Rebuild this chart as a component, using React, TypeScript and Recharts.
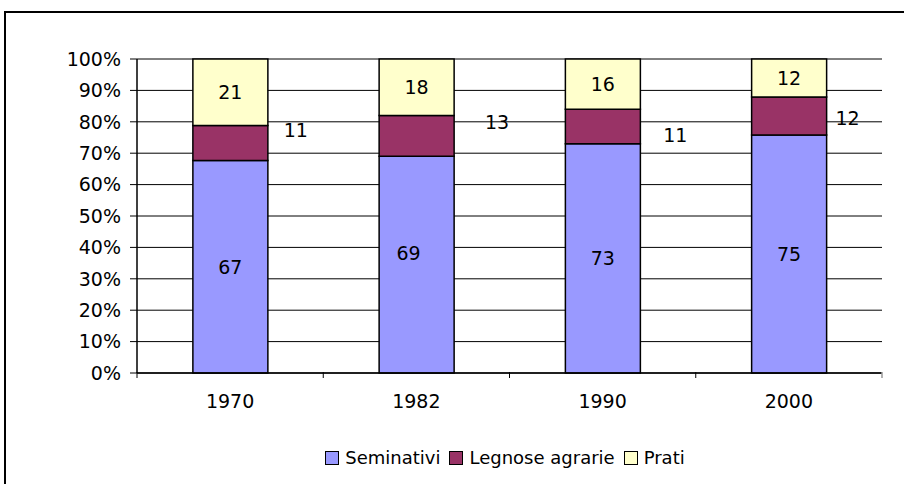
import { BarChart, Bar, XAxis, YAxis, CartesianGrid, Legend, LabelList } from 'recharts';

// anni e quote (%) per tipo di coltura
const years = ['1970', '1982', '1990', '2000'];
const seminativi = [67, 69, 73, 75];
const legnose = [11, 13, 11, 12];
const prati = [21, 18, 16, 12];
const yTicks = [0, 0.1, 0.2, 0.3, 0.4, 0.5, 0.6, 0.7, 0.8, 0.9, 1];

// etichette spostate a mano come nell'originale (dx, dy in px)
const legnoseNudge = [[28, -13], [43, -14], [35, 8], [21, 2]];
const seminativiNudge = [[0, 0], [-8, -12], [0, 0], [0, 0]];

const series = [
  { key: 'Seminativi', color: '#9999FF' },
  { key: 'Legnose agrarie', color: '#993366' },
  { key: 'Prati', color: '#FFFFCC' },
];

const data = years.map((year, i) => ({
  year,
  Seminativi: seminativi[i],
  'Legnose agrarie': legnose[i],
  Prati: prati[i],
}));

const FONT = 'DejaVu Sans';
const FS = 19;

const centerLabel = (nudge?: number[][]) => (props: any) => {
  const { x, y, width, height, value, index } = props;
  const [dx, dy] = nudge ? nudge[index] : [0, 0];
  return (
    <text x={x + width / 2 + dx} y={y + height / 2 + dy} textAnchor="middle" dominantBaseline="central"
      fontFamily={FONT} fontSize={FS} fill="#000">{value}</text>
  );
};

const sideLabel = (props: any) => {
  const { x, y, width, height, value, index } = props;
  const [dx, dy] = legnoseNudge[index];
  return (
    <text x={x + width + dx} y={y + height / 2 + dy} textAnchor="middle" dominantBaseline="central"
      fontFamily={FONT} fontSize={FS} fill="#000">{value}</text>
  );
};

const YearTick = (props: any) => {
  const { x, y, payload, index } = props;
  const half = payload?.offset ?? 93.1;
  return (
    <g>
      <line x1={x - half} y1={y - 9} x2={x - half} y2={y - 3} stroke="#000" strokeWidth={1} />
      {index === years.length - 1 && (
        <line x1={x + half} y1={y - 9} x2={x + half} y2={y - 3} stroke="#999" strokeWidth={1.5} />
      )}
      <text x={x} y={y + 20} textAnchor="middle" dominantBaseline="central" fontFamily={FONT} fontSize={FS} fill="#000">
        {payload.value}
      </text>
    </g>
  );
};

const LegendBox = () => (
  <div style={{ display: 'flex', justifyContent: 'center', alignItems: 'center', fontFamily: FONT, fontSize: 18, color: '#000' }}>
    {series.map((s) => (
      <div key={s.key} style={{ display: 'flex', alignItems: 'center', marginRight: 9 }}>
        <span style={{ width: 12, height: 12, background: s.color, border: '1px solid #000', marginRight: 6, display: 'inline-block' }} />
        <span>{s.key}</span>
      </div>
    ))}
  </div>
);

export default function App() {
  return (
    <div style={{ position: 'absolute', left: 0, top: 0, width: 904, height: 484, overflow: 'hidden', background: '#fff' }}>
      <div style={{ position: 'absolute', left: 4, top: 11, width: 1000, height: 600, border: '2px solid #000' }} />
      <div style={{ position: 'absolute', left: 0, top: 0 }}>
        <BarChart width={904} height={484} data={data} stackOffset="expand" barCategoryGap="30%"
          margin={{ top: 59, right: 22, left: 0, bottom: 71 }}>
          <CartesianGrid vertical={false} stroke="#000" strokeWidth={1} />
          <XAxis dataKey="year" height={40} axisLine={{ stroke: '#000', strokeWidth: 1.5 }} tickLine={false} tick={YearTick} interval={0} />
          <XAxis xAxisId="top" dataKey="year" orientation="top" height={0} axisLine={{ stroke: '#999', strokeWidth: 1.5 }} tick={false} tickLine={false} />
          <YAxis domain={[0, 1]} ticks={yTicks} width={137} tickSize={7} tickMargin={9}
            tickFormatter={(v: number) => `${Math.round(v * 100)}%`}
            axisLine={{ stroke: '#000', strokeWidth: 1.5 }} tickLine={{ stroke: '#000' }}
            tick={{ fontFamily: FONT, fontSize: FS, fill: '#000' }} />
          <YAxis yAxisId="right" orientation="right" width={0} axisLine={{ stroke: '#999', strokeWidth: 1.5 }} tick={false} tickLine={false} />
          <Legend layout="horizontal" verticalAlign="middle" align="center" content={LegendBox}
            wrapperStyle={{ top: 447, left: 137, width: 745 }} />
          <Bar dataKey="Seminativi" stackId="a" fill="#9999FF" stroke="#000" strokeWidth={1.5} isAnimationActive={false}>
            <LabelList dataKey="Seminativi" content={centerLabel(seminativiNudge)} />
          </Bar>
          <Bar dataKey="Legnose agrarie" stackId="a" fill="#993366" stroke="#000" strokeWidth={1.5} isAnimationActive={false}>
            <LabelList dataKey="Legnose agrarie" content={sideLabel} />
          </Bar>
          <Bar dataKey="Prati" stackId="a" fill="#FFFFCC" stroke="#000" strokeWidth={1.5} isAnimationActive={false}>
            <LabelList dataKey="Prati" content={centerLabel()} />
          </Bar>
        </BarChart>
      </div>
    </div>
  );
}
